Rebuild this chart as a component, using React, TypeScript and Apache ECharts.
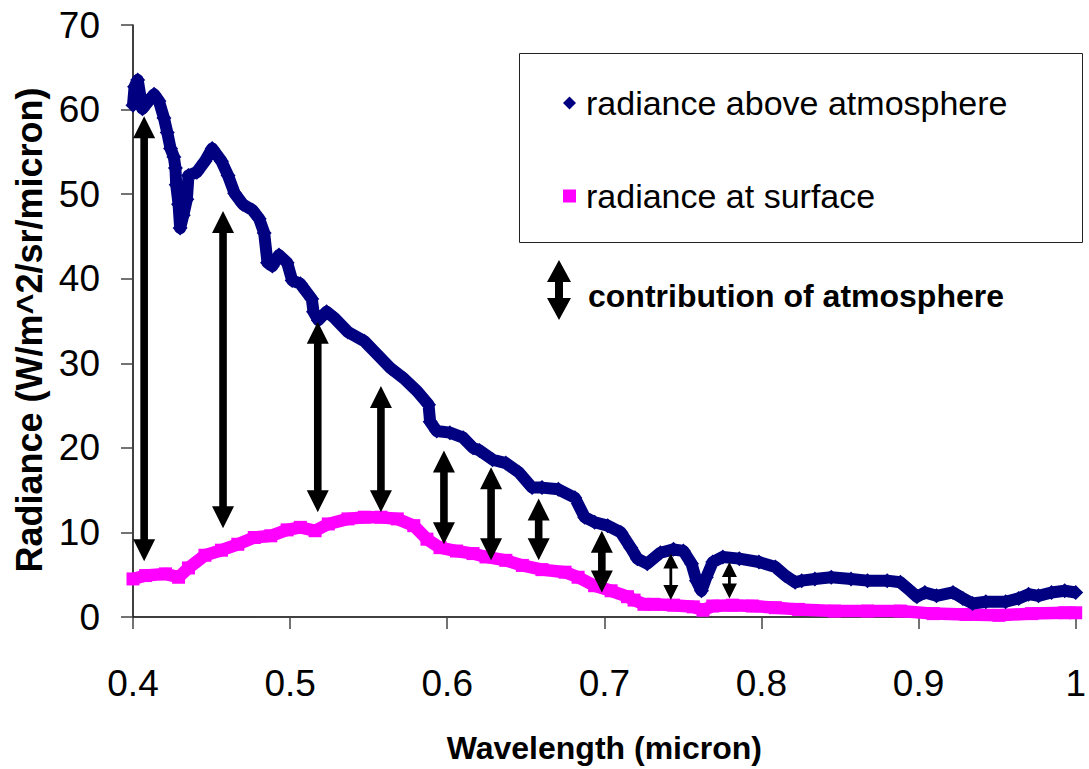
import React, { useEffect, useRef } from "react";
import * as echarts from "echarts";

const FONT = "'Liberation Sans', Arial, sans-serif";

// radiance above atmosphere: [wavelength (micron), radiance]
const aboveWavelength = [
  0.400, 0.401, 0.403, 0.406, 0.4134, 0.4165, 0.4197, 0.4218, 0.4239, 0.426,
  0.427, 0.4275, 0.429, 0.430, 0.432, 0.4343, 0.4353, 0.4406, 0.4458, 0.4504,
  0.4563, 0.4605, 0.4647, 0.4699, 0.4761, 0.4803, 0.4835, 0.4856, 0.4887, 0.4929,
  0.4981, 0.5013, 0.5065, 0.5138, 0.5149, 0.518, 0.5232, 0.5285, 0.5368, 0.5473,
  0.5557, 0.564, 0.5724, 0.5808, 0.5881, 0.5891, 0.5933, 0.6017, 0.6101, 0.6164,
  0.6205, 0.6289, 0.6373, 0.6456, 0.654, 0.6603, 0.6707, 0.6812, 0.6875, 0.6938,
  0.7021, 0.7105, 0.7168, 0.721, 0.7273, 0.7357, 0.744, 0.7503, 0.7555, 0.7586,
  0.7618, 0.7649, 0.769, 0.7754, 0.7859, 0.7984, 0.8089, 0.8151, 0.8214, 0.8256,
  0.834, 0.8444, 0.857, 0.8675, 0.88, 0.8884, 0.8947, 0.8989, 0.904, 0.9114,
  0.9219, 0.9282, 0.9344, 0.9428, 0.9554, 0.9637, 0.97, 0.9763, 0.9846, 0.993,
  1.0,
];
const aboveRadiance = [
  60.5, 62.7, 63.5, 60.1, 61.8, 61.0, 59.0, 57.3, 55.4, 54.4,
  53.1, 51.1, 48.8, 46.0, 47.5, 49.4, 52.2, 52.6, 53.9, 55.4,
  53.9, 52.2, 50.1, 48.8, 48.1, 47.1, 45.4, 41.9, 41.5, 42.8,
  41.9, 39.8, 39.4, 37.6, 36.1, 35.1, 36.1, 35.3, 33.7, 32.6,
  31.0, 29.4, 28.2, 26.7, 25.1, 23.1, 22.0, 21.8, 21.2, 20.0,
  19.7, 18.6, 18.2, 17.1, 15.3, 15.3, 15.1, 14.1, 11.8, 11.2,
  10.8, 10.0, 8.2, 6.9, 6.3, 7.6, 8.0, 7.8, 6.3, 4.3,
  3.1, 4.7, 6.5, 7.1, 6.9, 6.5, 5.9, 4.9, 4.1, 4.3,
  4.5, 4.7, 4.5, 4.3, 4.3, 4.1, 3.1, 2.4, 2.9, 2.5,
  2.9, 2.2, 1.6, 1.8, 1.8, 2.2, 2.7, 2.5, 2.9, 3.1,
  2.9,
];

// radiance at surface
const surfaceWavelength = [
  0.400, 0.408, 0.4207, 0.429, 0.4353, 0.4458, 0.4563, 0.4667, 0.4772, 0.4877,
  0.4981, 0.5065, 0.5159, 0.5243, 0.5368, 0.5473, 0.5578, 0.5682, 0.5787, 0.5871,
  0.5954, 0.6059, 0.6164, 0.6247, 0.6373, 0.6478, 0.6603, 0.675, 0.6833, 0.6938,
  0.7043, 0.7147, 0.7189, 0.7252, 0.7315, 0.744, 0.7566, 0.7628, 0.769, 0.7816,
  0.7942, 0.8089, 0.8235, 0.8465, 0.8675, 0.8884, 0.9093, 0.9302, 0.9511, 0.972,
  0.993, 1.0,
];
const surfaceRadiance = [
  4.5, 4.9, 5.1, 4.7, 5.8, 7.3, 7.9, 8.6, 9.4, 9.6,
  10.3, 10.6, 10.2, 11.0, 11.6, 11.8, 11.8, 11.6, 10.8, 9.2,
  8.2, 7.8, 7.5, 7.1, 6.7, 6.1, 5.6, 5.3, 4.7, 3.7,
  3.1, 2.4, 2.0, 1.5, 1.5, 1.4, 1.2, 0.8, 1.3, 1.4,
  1.3, 1.1, 0.9, 0.7, 0.7, 0.7, 0.4, 0.3, 0.2, 0.4,
  0.5, 0.5,
];

// contribution-of-atmosphere arrows
const arrowWavelength = [0.4071, 0.4573, 0.5176, 0.5578, 0.5979, 0.6279, 0.6582, 0.6984, 0.7423, 0.7796];
const arrowTop = [59.2, 48.0, 34.9, 27.3, 19.7, 17.7, 14.0, 10.2, 7.5, 6.5];
const arrowBottom = [6.6, 10.5, 12.4, 12.4, 8.6, 6.7, 6.7, 2.9, 2.0, 2.2];
const arrowThick = [1, 1, 1, 1, 1, 1, 1, 1, 0, 0];

const xTicks = { min: 0.4, max: 1.0, interval: 0.1 };
const yTicks = { min: 0, max: 70, interval: 10 };

const NAME_ABOVE = "radiance above atmosphere";
const NAME_SURFACE = "radiance at surface";
const KEY_TEXT = "contribution of atmosphere";

function arrowPoints(cx: number, y1: number, y2: number, hw: number, hl: number, sw: number) {
  return [
    [cx, y1],
    [cx + hw, y1 + hl],
    [cx + sw, y1 + hl],
    [cx + sw, y2 - hl],
    [cx + hw, y2 - hl],
    [cx, y2],
    [cx - hw, y2 - hl],
    [cx - sw, y2 - hl],
    [cx - sw, y1 + hl],
    [cx - hw, y1 + hl],
  ];
}

export default function App() {
  const ref = useRef<HTMLDivElement>(null);

  useEffect(() => {
    if (!ref.current) return;
    const chart = echarts.init(ref.current, undefined, { renderer: "svg" });

    const aboveData = aboveWavelength.map((x, i) => [x, aboveRadiance[i]]);
    const surfaceData = surfaceWavelength.map((x, i) => [x, surfaceRadiance[i]]);
    const arrowData = arrowWavelength.map((x, i) => [x, arrowTop[i], arrowBottom[i], arrowThick[i]]);

    chart.setOption({
      animation: false,
      backgroundColor: "#ffffff",
      grid: { left: 133, right: 1, top: 25, bottom: 150 },
      legend: {
        orient: "vertical",
        left: 558,
        top: 81,
        itemWidth: 13,
        itemHeight: 13,
        itemGap: 59,
        textStyle: { fontSize: 34, color: "#000", fontFamily: FONT, padding: [0, 0, 0, 5] },
        data: [
          { name: NAME_ABOVE, icon: "diamond" },
          { name: NAME_SURFACE, icon: "rect" },
        ],
      },
      xAxis: {
        type: "value",
        min: xTicks.min,
        max: xTicks.max,
        interval: xTicks.interval,
        name: "Wavelength (micron)",
        nameLocation: "middle",
        nameGap: 115,
        nameTextStyle: { fontSize: 32, fontWeight: "bold", color: "#000", fontFamily: FONT },
        axisLine: { lineStyle: { color: "#000", width: 1.5 } },
        axisTick: { length: 12, lineStyle: { color: "#444", width: 1.5 } },
        axisLabel: {
          fontSize: 37,
          color: "#000",
          fontFamily: FONT,
          margin: 48,
          formatter: (v: number) => String(Math.round(v * 10) / 10),
        },
        splitLine: { show: false },
      },
      yAxis: {
        type: "value",
        min: yTicks.min,
        max: yTicks.max,
        interval: yTicks.interval,
        name: "Radiance (W/m^2/sr/micron)",
        nameLocation: "middle",
        nameGap: 86,
        nameTextStyle: {
          fontSize: 36,
          fontWeight: "bold",
          color: "#000",
          fontFamily: FONT,
          padding: [0, 18, 0, 0],
        },
        axisLine: { show: true, lineStyle: { color: "#000", width: 1.5 } },
        axisTick: { show: true, length: 12, lineStyle: { color: "#444", width: 1.5 } },
        axisLabel: { fontSize: 37, color: "#000", fontFamily: FONT, margin: 33 },
        splitLine: { show: false },
      },
      series: [
        {
          name: NAME_SURFACE,
          type: "line",
          data: surfaceData,
          symbol: "rect",
          symbolSize: 13,
          showSymbol: true,
          itemStyle: { color: "#ff00ff" },
          lineStyle: { color: "#ff00ff", width: 12.5 },
          z: 2,
        },
        {
          name: NAME_ABOVE,
          type: "line",
          data: aboveData,
          symbol: "diamond",
          symbolSize: 15,
          showSymbol: true,
          itemStyle: { color: "#000080" },
          lineStyle: { color: "#000080", width: 12, join: "round" },
          z: 3,
        },
        {
          name: "arrows",
          type: "custom",
          data: arrowData,
          z: 5,
          clip: false,
          renderItem: (params: any, api: any) => {
            const x = api.value(0);
            const top = api.coord([x, api.value(1)]);
            const bot = api.coord([x, api.value(2)]);
            const thick = api.value(3) === 1;
            const pts = thick
              ? arrowPoints(top[0], top[1], bot[1], 11, 22, 3.8)
              : arrowPoints(top[0], top[1], bot[1], 7.5, 15, 1.4);
            return {
              type: "polygon",
              shape: { points: pts },
              style: { fill: "#000" },
            };
          },
        },
      ],
      graphic: [
        {
          type: "rect",
          shape: { x: 519.5, y: 53.5, width: 563, height: 189 },
          style: { fill: "none", stroke: "#222", lineWidth: 1 },
          z: 1,
        },
        {
          type: "polygon",
          shape: { points: arrowPoints(559, 260, 320, 12, 22, 4) },
          style: { fill: "#000" },
        },
        {
          type: "text",
          x: 588,
          y: 296,
          style: {
            text: KEY_TEXT,
            fontSize: 32,
            fontWeight: "bold",
            fontFamily: FONT,
            fill: "#000",
            verticalAlign: "middle",
          },
        },
      ],
    });

    return () => chart.dispose();
  }, []);

  return (
    <div
      ref={ref}
      style={{ position: "fixed", left: 0, top: 0, width: 1089, height: 769, background: "#fff" }}
    />
  );
}
